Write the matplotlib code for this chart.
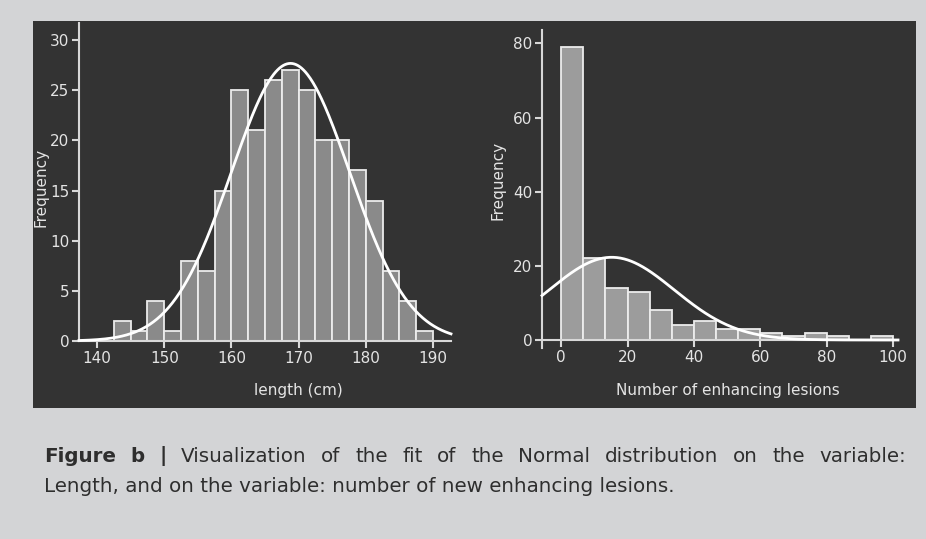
import matplotlib
matplotlib.use('Agg')
import matplotlib.pyplot as plt
import numpy as np

# Histogram data
length_edges = np.arange(142.5, 190.1, 2.5)
length_counts = [2, 1, 4, 1, 8, 7, 15, 25, 21, 26, 27, 25, 20, 20, 17, 14, 7, 4, 1]
length_mean, length_sd = 168.8, 8.83
length_ticks = [140, 150, 160, 170, 180, 190]
length_yticks = [0, 5, 10, 15, 20, 25, 30]

lesion_edges = np.linspace(0, 100, 16)
lesion_counts = [79, 22, 14, 13, 8, 4, 5, 3, 3, 2, 1, 2, 1, 0, 1]
lesion_mean, lesion_sd = 15.2, 18.84
lesion_ticks = [0, 20, 40, 60, 80, 100]
lesion_yticks = [0, 20, 40, 60, 80]

caption_bold = 'Figure b |'
caption_line1 = 'Visualization of the fit of the Normal distribution on the variable:'
caption_line2 = 'Length, and on the variable: number of new enhancing lesions.'

W, H = 926, 539
OUTER = '#d3d4d6'
PANEL = '#333333'
FG = '#e4e4e4'

fig = plt.figure(figsize=(W / 100, H / 100), dpi=100, facecolor=OUTER)

# dark panel behind both charts
fig.patches.append(plt.Rectangle((33 / W, 1 - 408 / H), (916 - 33) / W, (408 - 21) / H,
                                 transform=fig.transFigure, facecolor=PANEL,
                                 edgecolor='none', zorder=-10))


def px_axes(x0, x1, y_top, y_bot):
    return fig.add_axes([x0 / W, 1 - y_bot / H, (x1 - x0) / W, (y_bot - y_top) / H])


def style(ax, xlim, ylim, xticks, yticks):
    ax.set_facecolor('none')
    ax.set_xlim(*xlim)
    ax.set_ylim(*ylim)
    ax.set_xticks(xticks)
    ax.set_yticks(yticks)
    for s in ['top', 'right']:
        ax.spines[s].set_visible(False)
    for s in ['left', 'bottom']:
        ax.spines[s].set_color('#d8d8d8')
        ax.spines[s].set_linewidth(1.5)
    ax.tick_params(colors='#d8d8d8', labelcolor=FG, labelsize=11, length=5,
                   width=1.5, pad=2)


def hist_with_fit(ax, edges, counts, mean, sd, color):
    edges = np.asarray(edges)
    bw = edges[1] - edges[0]
    ax.bar(edges[:-1], counts, width=bw, align='edge', color=color,
           edgecolor='#ececec', linewidth=1.3, zorder=2)
    lo, hi = ax.get_xlim()
    xs = np.linspace(lo, hi, 400)
    n = sum(counts)
    ys = n * bw / (sd * np.sqrt(2 * np.pi)) * np.exp(-0.5 * ((xs - mean) / sd) ** 2)
    ax.plot(xs, ys, color='white', lw=2, zorder=3, clip_on=False)


# left: length
ax1 = px_axes(79, 451, 23, 341)
style(ax1, (137.3, 192.7), (0, 31.7), length_ticks, length_yticks)
hist_with_fit(ax1, length_edges, length_counts, length_mean, length_sd, '#8a8a8a')

# right: enhancing lesions
ax2 = px_axes(542, 898, 30, 340)
style(ax2, (-5.8, 101.5), (0, 83.6), lesion_ticks, lesion_yticks)
ax2.spines['left'].set_bounds(-2.2, 83.6)
hist_with_fit(ax2, lesion_edges, lesion_counts, lesion_mean, lesion_sd, '#9c9c9c')

# axis titles
fig.text(298 / W, 1 - 390 / H, 'length (cm)', color=FG, fontsize=11,
         ha='center', va='center')
fig.text(728 / W, 1 - 390 / H, 'Number of enhancing lesions', color=FG,
         fontsize=11, ha='center', va='center')
fig.text(41 / W, 1 - 187 / H, 'Frequency', color=FG, fontsize=11,
         rotation=90, ha='center', va='center')
fig.text(498 / W, 1 - 180 / H, 'Frequency', color=FG, fontsize=11,
         rotation=90, ha='center', va='center')

# caption, first line justified between x=44 and x=906
cap_color = '#2e2e2e'
cap_size = 14.3
renderer = fig.canvas.get_renderer()
words = [(w, 'bold') for w in caption_bold.split()] + \
        [(w, 'normal') for w in caption_line1.split()]
arts = []
for w, weight in words:
    t = fig.text(0, 1 - 456 / H, w, color=cap_color, fontsize=cap_size,
                 fontweight=weight, ha='left', va='center')
    arts.append(t)
widths = [t.get_window_extent(renderer).width for t in arts]
gap = (906 - 44 - sum(widths)) / (len(arts) - 1)
x = 44
for t, w in zip(arts, widths):
    t.set_x(x / W)
    x += w + gap
fig.text(44 / W, 1 - 487 / H, caption_line2, color=cap_color, fontsize=cap_size,
         ha='left', va='center')

plt.savefig('out.png', dpi=100, facecolor=OUTER)
